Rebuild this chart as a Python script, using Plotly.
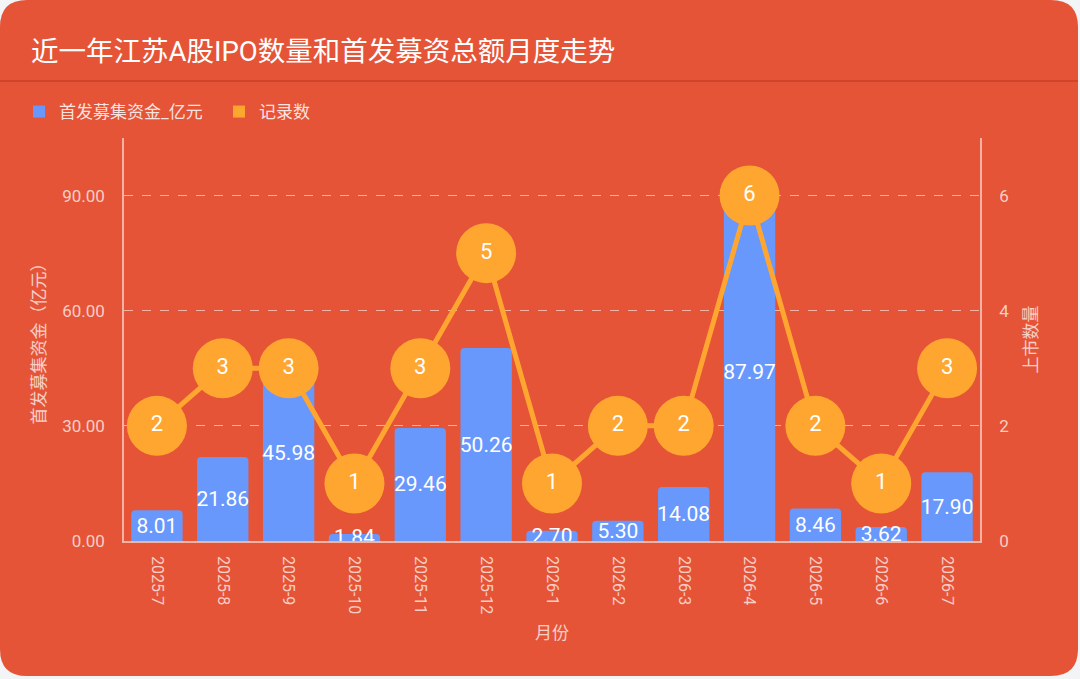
import plotly.graph_objects as go

months = ["2025-7", "2025-8", "2025-9", "2025-10", "2025-11", "2025-12",
          "2026-1", "2026-2", "2026-3", "2026-4", "2026-5", "2026-6", "2026-7"]
amount = [8.01, 21.86, 45.98, 1.84, 29.46, 50.26, 2.70, 5.30, 14.08, 87.97, 8.46, 3.62, 17.90]
count = [2, 3, 3, 1, 3, 5, 1, 2, 2, 6, 2, 1, 3]

BG = "#E55437"
PAGE = "#F3F4F6"
BLUE = "#6898FC"
ORANGE = "#FFA630"
LIGHT = "rgba(255,255,255,0.72)"
GRID = "rgba(255,255,255,0.55)"
FONT = "Roboto, Noto Sans CJK SC, sans-serif"

W, H = 1080, 679
L, R, T, B = 124, 100, 138, 138
pw, ph = W - L - R, H - T - B


def px_x(p):
    return (p - L) / pw


def px_y(p):
    return (H - B - p) / ph


def card_path(x0, y0, x1, y1, r):
    def P(x, y):
        return f"{px_x(x):.5f},{px_y(y):.5f}"
    return " ".join([
        f"M{P(x0 + r, y0)}", f"L{P(x1 - r, y0)}", f"Q{P(x1, y0)} {P(x1, y0 + r)}",
        f"L{P(x1, y1 - r)}", f"Q{P(x1, y1)} {P(x1 - r, y1)}",
        f"L{P(x0 + r, y1)}", f"Q{P(x0, y1)} {P(x0, y1 - r)}",
        f"L{P(x0, y0 + r)}", f"Q{P(x0, y0)} {P(x0 + r, y0)}", "Z"])


fig = go.Figure()
fig.add_trace(go.Bar(
    x=months, y=amount, name="首发募集资金_亿元",
    marker=dict(color=BLUE, line=dict(width=0)),
    width=0.78,
    text=[f"{v:.2f}" for v in amount],
    textposition="inside", insidetextanchor="middle", textangle=0,
    textfont=dict(color="white", size=21, family=FONT),
    showlegend=False,
))
fig.add_trace(go.Scatter(
    x=months, y=count, name="记录数", yaxis="y2",
    mode="lines+markers+text",
    line=dict(color=ORANGE, width=5),
    marker=dict(color=ORANGE, size=60, line=dict(width=0)),
    text=[str(c) for c in count], textposition="middle center",
    textfont=dict(color="white", size=22, family=FONT),
    showlegend=False, cliponaxis=False,
))
# legend-only entries (square swatches)
for nm, col in [("首发募集资金_亿元", BLUE), ("记录数", ORANGE)]:
    fig.add_trace(go.Scatter(x=[months[0]], y=[None], name=nm, mode="markers",
                             marker=dict(symbol="square", color=col, size=12),
                             showlegend=True))

fig.update_layout(
    width=W, height=H,
    margin=dict(l=L, r=R, t=T, b=B),
    paper_bgcolor=PAGE, plot_bgcolor="rgba(0,0,0,0)",
    barmode="overlay", barcornerradius=4,
    uniformtext=dict(minsize=21, mode="show"),
    font=dict(family=FONT, color=LIGHT, size=16),
    title=dict(text="近一年江苏A股IPO数量和首发募资总额月度走势",
               x=31 / W, xanchor="left", xref="container",
               y=1 - 51 / H, yanchor="middle", yref="container",
               font=dict(size=27.5, color="white", family=FONT)),
    legend=dict(orientation="h", x=px_x(19), y=px_y(112), xanchor="left",
                yanchor="middle", font=dict(size=17, color="rgba(255,255,255,0.85)"),
                bgcolor="rgba(0,0,0,0)", itemclick=False, traceorder="normal",
                itemwidth=30, entrywidth=155),
    xaxis=dict(type="category", range=[-0.5, len(months) - 0.5],
               showgrid=False, showline=True, linecolor=GRID,
               linewidth=1.5, ticks="", tickangle=90, ticklabelstandoff=10,
               tickfont=dict(size=16, color=LIGHT),
               title=dict(text="月份", font=dict(size=17, color=LIGHT), standoff=14)),
    yaxis=dict(range=[0, 105], dtick=30, tickformat=".2f", showgrid=True,
               gridcolor=GRID, griddash="dash", gridwidth=1, zeroline=False,
               showline=True, linecolor=GRID, linewidth=1.5, ticks="",
               ticklabelstandoff=14,
               tickfont=dict(size=17, color=LIGHT),
               title=dict(text="首发募集资金（亿元）", font=dict(size=17, color=LIGHT),
                          standoff=12)),
    yaxis2=dict(range=[0, 7], dtick=2, overlaying="y", side="right",
                showgrid=False, zeroline=False, showline=True, linecolor=GRID,
                linewidth=1.5, ticks="", ticklabelstandoff=14,
                tickfont=dict(size=17, color=LIGHT),
                title=dict(text="上市数量", font=dict(size=17, color=LIGHT),
                           standoff=17)),
    shapes=[
        dict(type="path", xref="paper", yref="paper", path=card_path(0, 0, 1078, 676, 27),
             fillcolor=BG, line=dict(width=0), layer="below"),
        dict(type="line", xref="paper", yref="paper",
             x0=px_x(0), x1=px_x(1078), y0=px_y(81), y1=px_y(81),
             line=dict(color="rgba(170,40,20,0.35)", width=2), layer="below"),
    ],
)

fig.write_html("out.html", config={"displayModeBar": False},
               post_script="document.body.style.margin='0';document.body.style.overflow='hidden';document.body.style.background='" + PAGE + "';")
